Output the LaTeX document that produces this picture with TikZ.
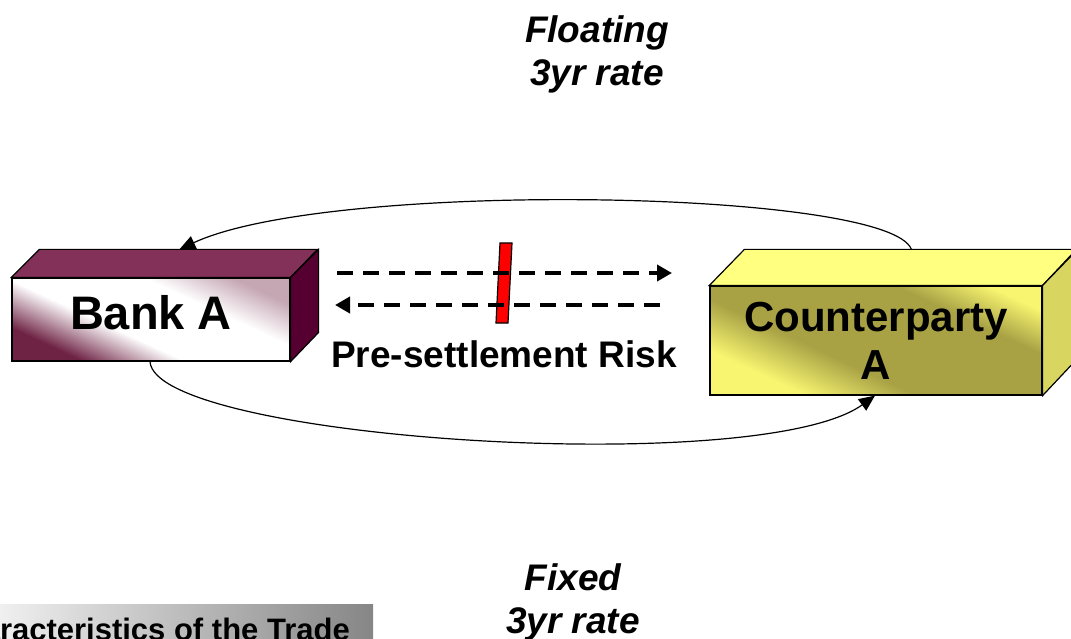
\documentclass[tikz,border=0pt]{standalone}
\usepackage{fontspec}
\setmainfont{Liberation Sans}
\usetikzlibrary{arrows.meta}
\definecolor{bankTop}{HTML}{833158}
\definecolor{bankSide}{HTML}{550030}
\definecolor{bankDark}{HTML}{6E2244}
\definecolor{cpTop}{HTML}{FFFF80}
\definecolor{cpSide}{HTML}{D8D660}
\definecolor{cpDark}{HTML}{A8A245}
\definecolor{cpLight}{HTML}{F8F570}
\pgfdeclareverticalshading{bankshade}{100bp}{color(0bp)=(bankDark); color(27bp)=(bankDark);
  color(42bp)=(white); color(62bp)=(white); color(75bp)=(bankDark!40); color(100bp)=(bankDark!40)}
\pgfdeclareverticalshading{cpshade}{100bp}{color(0bp)=(cpLight); color(28bp)=(cpLight);
  color(41bp)=(cpDark); color(66bp)=(cpDark); color(77bp)=(cpLight); color(100bp)=(cpLight)}

\begin{document}
\begin{tikzpicture}[x=1pt,y=-1pt,
    face/.style={draw,line width=1.2pt,inner sep=0pt},
    rate/.style={align=center,font=\bfseries\itshape\fontsize{37}{43}\selectfont},
    flow/.style={line width=1.2pt,-{Triangle[length=16pt,width=14pt]}},
    dashflow/.style={line width=4.8pt,dash pattern=on 16pt off 10pt,-{Triangle[length=15pt,width=16pt]}}]
  \useasboundingbox (0,0) rectangle (1071,639);
  \clip (0,0) rectangle (1071,639);

  \node[face,minimum width=278pt,minimum height=83pt,text depth=15pt,
    shading=bankshade,shading angle=-25,
    font=\bfseries\fontsize{47}{50}\selectfont] (bank) at (151,319.5) {Bank A};
  \draw[line width=1.2pt,fill=bankTop] (bank.north west) -- ++(28,-28) coordinate (bankbl)
    -- ++(278,0) -- (bank.north east) -- cycle;
  \draw[line width=1.2pt,fill=bankSide] (bank.north east) -- ++(28,-28) -- ++(0,83)
    -- (bank.south east) -- cycle;

  \node[face,minimum width=332pt,minimum height=109pt,align=center,
    shading=cpshade,shading angle=-25,
    font=\bfseries\fontsize{42}{48}\selectfont] (cp) at (876,340.5) {Counterparty\\A};
  \draw[line width=1.2pt,fill=cpTop] (cp.north west) -- ++(35,-36) coordinate (cpbl)
    -- ++(332,0) -- (cp.north east) -- cycle;
  \draw[line width=1.2pt,fill=cpSide] (cp.north east) -- ++(35,-36) -- ++(0,109)
    -- (cp.south east) -- cycle;

  \draw[flow] ([xshift=167pt]cpbl) .. controls +(-22,-60) and +(150,-70) .. ([xshift=140pt]bankbl);
  \draw[flow] ([xshift=-1pt]bank.south) .. controls +(5,78) and +(-115,83) .. ([xshift=-1pt]cp.south);

  \draw[line width=1.2pt,fill=red] (500,243) -- (512,243) -- (508,323) -- (496,323) -- cycle;

  \coordinate (outA) at (337,273);
  \coordinate (outB) at (672,273);
  \coordinate (backA) at (660,305);
  \coordinate (backB) at (335,305);
  \draw[dashflow] (outA) -- (outB);
  \draw[dashflow] (backA) -- (backB);

  \node[font=\bfseries\fontsize{37}{40}\selectfont] (risk) at (504,354) {Pre-settlement Risk};
  \node[rate] (floating) at (597,54) {Floating\\3yr rate};
  \node[rate] (fixed) at (573,602) {Fixed\\3yr rate};

  \fill[left color=gray!12,right color=gray!95] (0,604) rectangle (373,650);
  \node[anchor=base east,inner sep=0pt,font=\bfseries\fontsize{31}{34}\selectfont] (trade) at (350,640) {Characteristics of the Trade};
\end{tikzpicture}
\end{document}
